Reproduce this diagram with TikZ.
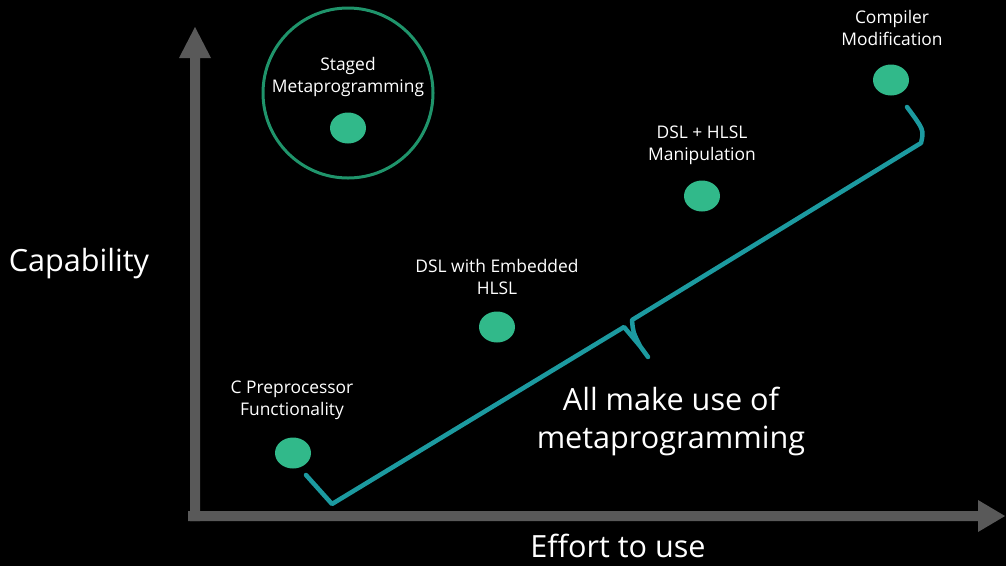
\documentclass[tikz,border=0pt]{standalone}
\usepackage{fontspec}
\setmainfont{Open Sans}
\usetikzlibrary{shapes.geometric}
\definecolor{axisgray}{HTML}{595959}
\definecolor{dotgreen}{HTML}{31B98A}
\definecolor{ringgreen}{HTML}{1F946B}
\definecolor{braceteal}{HTML}{1C9AA0}
\tikzset{
  dot/.style={ellipse, fill=dotgreen, draw=none, minimum width=36pt, minimum height=31pt, inner sep=0pt},
  lbl/.style={text=white, align=center, inner sep=0pt, font=\fontsize{17.4}{22.5}\selectfont},
  biglbl/.style={text=white, align=center, inner sep=0pt, font=\fontsize{30.6}{38}\selectfont},
  axis/.style={fill=axisgray, draw=none},
  brace/.style={draw=braceteal, line width=4.5pt, line join=round, line cap=round}
}
\begin{document}
\begin{tikzpicture}[x=1pt, y=-1pt]
  \fill[black] (0,0) rectangle (1006,566);
  \useasboundingbox (0,0) rectangle (1006,566);

  % axes
  \fill[axis] (190,521) -- (190,58) -- (179,58) -- (195,27) -- (211,58) -- (200,58) -- (200,521) -- cycle;
  \fill[axis] (188,511) -- (978,511) -- (978,500) -- (1005,516) -- (978,532) -- (978,521) -- (188,521) -- cycle;

  % axis titles
  \node[biglbl] (cap) at (79,264) {Capability};
  \node[biglbl] (eff) at (618,546) {Effort to use};

  % highlight ring
  \node[circle, draw=ringgreen, line width=3pt, minimum size=170pt, inner sep=0pt] (ring) at (348,93) {};

  % approaches
  \node[dot] (staged) at (348,128) {};
  \node[lbl, anchor=south] (stagedL) at (348,97) {Staged\\Metaprogramming};

  \node[dot] (cpp) at (293,453) {};
  \node[lbl, anchor=south] (cppL) at (292,420) {C Preprocessor\\Functionality};

  \node[dot] (dslemb) at (497,327) {};
  \node[lbl, anchor=south] (dslembL) at (497,295) {DSL with Embedded\\HLSL};

  \node[dot] (dslhlsl) at (702,196) {};
  \node[lbl, anchor=south] (dslhlslL) at (702,165) {DSL + HLSL\\Manipulation};

  \node[dot] (comp) at (891,80) {};
  \node[lbl, anchor=south] (compL) at (892,46) {Compiler\\Modification};

  % brace grouping the four approaches
  \coordinate (b0) at (306,475);
  \coordinate (b1) at (332,504);
  \coordinate (b2) at (624,327);
  \coordinate (stem) at (640,346);
  \coordinate (tip) at (648,357);
  \coordinate (b3) at (632,320);
  \coordinate (b4) at (921,143);
  \coordinate (b5) at (907,107);
  \draw[brace] (b0) -- (b1) -- (b2) -- (stem) -- (tip)
               (stem) .. controls (633,332) .. (b3) -- (b4) .. controls (924,130) .. (b5);

  \node[biglbl] (note) at (671,421) {All make use of\\metaprogramming};
\end{tikzpicture}
\end{document}
